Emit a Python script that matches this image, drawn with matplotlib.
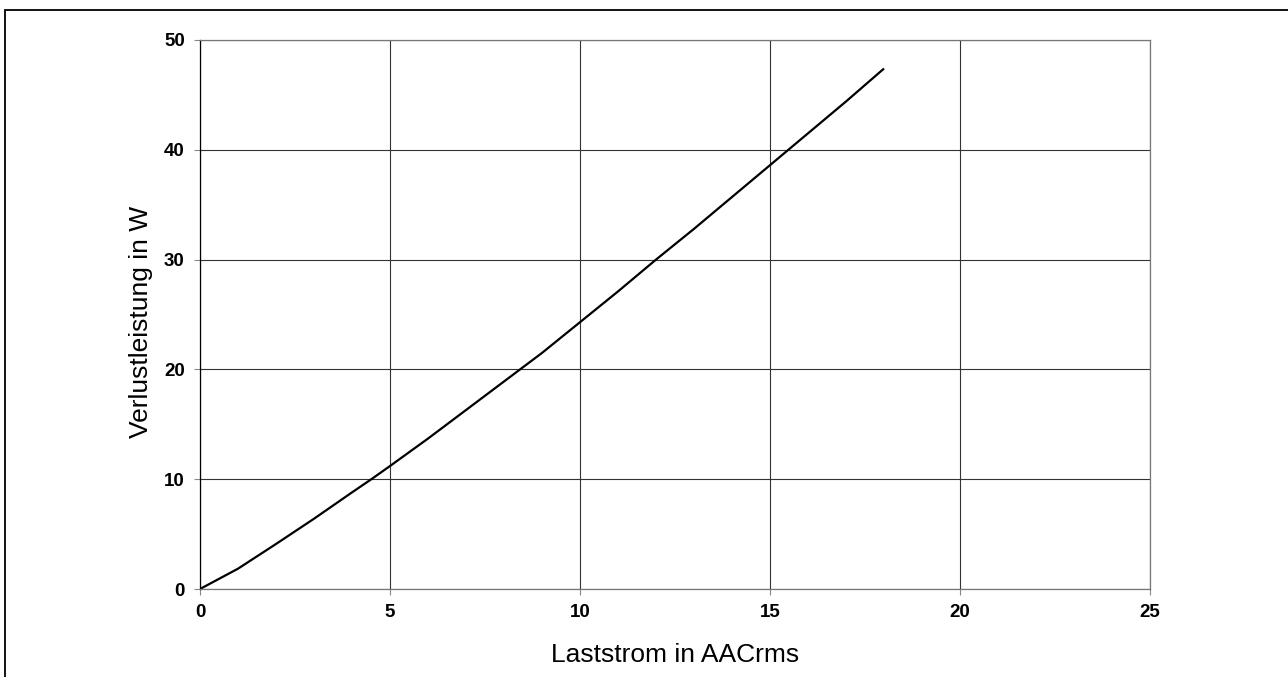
import matplotlib.pyplot as plt
from matplotlib.patches import Rectangle

plt.rcParams['font.family'] = ['Liberation Sans', 'DejaVu Sans']

# Laststrom (A) und Verlustleistung (W)
strom = [0, 1, 2, 3, 4, 4.51, 5, 6, 7, 8, 9, 10, 11, 12, 13, 14, 15, 16, 17, 18]
leistung = [0, 1.85, 4.1, 6.4, 8.8, 10.0, 11.2, 13.7, 16.3, 18.9, 21.5, 24.3,
            27.1, 30.0, 32.8, 35.7, 38.6, 41.5, 44.4, 47.4]

x_ticks = [0, 5, 10, 15, 20, 25]
y_ticks = [0, 10, 20, 30, 40, 50]

fig = plt.figure(figsize=(12.88, 6.77), dpi=100)
ax = fig.add_axes([200 / 1288, 88 / 677, 950 / 1288, 549 / 677])

ax.plot(strom, leistung, color='black', linewidth=1.6, solid_capstyle='butt')

ax.set_xlim(0, 25)
ax.set_ylim(0, 50)
ax.set_xticks(x_ticks)
ax.set_yticks(y_ticks)
ax.grid(True, color='#333333', linewidth=0.8)
ax.set_axisbelow(True)
for s in ax.spines.values():
    s.set_color('#777777')
    s.set_linewidth(0.9)
ax.spines['left'].set_color('black')
ax.tick_params(direction='out', length=4, width=0.8, color='#888888', pad=7)
for lbl in ax.get_xticklabels() + ax.get_yticklabels():
    lbl.set_fontweight('bold')
    lbl.set_fontsize(13.5)

ax.set_xlabel('Laststrom in AACrms', fontsize=19, labelpad=16)
ax.set_ylabel('Verlustleistung in W', fontsize=19, labelpad=8)
ax.yaxis.label.set_y(0.486)

# Rahmen um die Grafik (rechts/unten abgeschnitten)
fig.patches.append(Rectangle((5 / 1288, -0.1), 1.2, (677 - 9.5) / 677 + 0.1,
                             transform=fig.transFigure, fill=False,
                             edgecolor='black', linewidth=1.3))

fig.savefig('out.png', dpi=100)
